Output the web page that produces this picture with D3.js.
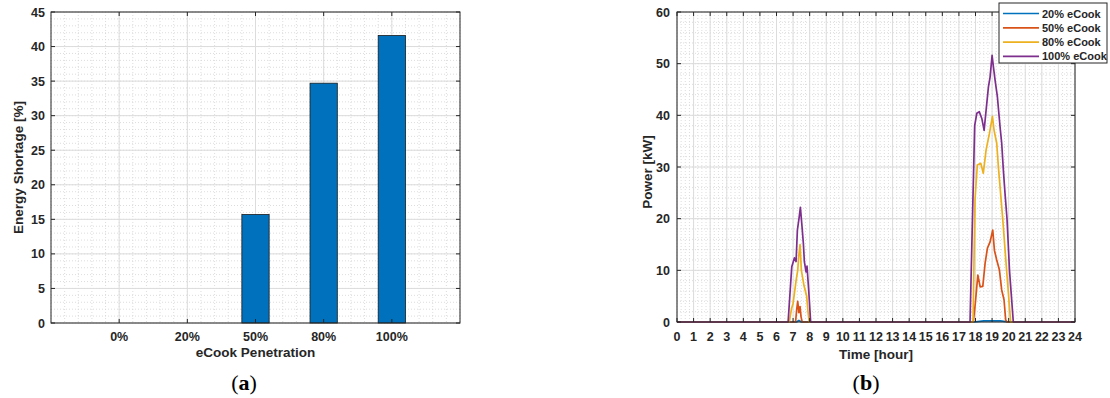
<!DOCTYPE html>
<html>
<head>
<meta charset="utf-8">
<script src="https://cdn.jsdelivr.net/npm/d3@7"></script>
<style>
  body { margin: 0; background: #fff; }
  svg text { font-family: "Liberation Sans", Arial, sans-serif; font-weight: bold; fill: #262626; }
</style>
</head>
<body>
<div id="chart"></div>
<script>
// panel (a): energy shortage per eCook penetration
var penetration = ["0%", "20%", "50%", "80%", "100%"];
var shortage = [0, 0, 15.7, 34.7, 41.6];
var shortageTicks = [0, 5, 10, 15, 20, 25, 30, 35, 40, 45];

// panel (b): power profiles, [hour, kW]
var eCook20 = [[0, 0], [7.2, 0], [7.35, 0.3], [7.5, 0], [17.9, 0], [18.5, 0.2], [19.5, 0.2], [20, 0], [24, 0]];
var eCook50 = [[0, 0], [7.15, 0], [7.22, 2.5], [7.28, 4], [7.35, 1.8], [7.42, 3], [7.48, 1], [7.55, 0],
  [17.87, 0], [18.0, 4], [18.14, 9.1], [18.28, 6.8], [18.44, 6.9], [18.58, 11.4], [18.72, 14.3],
  [18.88, 15.5], [19.04, 17.8], [19.14, 13.9], [19.28, 12], [19.44, 10.1], [19.58, 6.2], [19.72, 4.3],
  [19.82, 0.4], [19.9, 0], [24, 0]];
var eCook80 = [[0, 0], [6.77, 0], [6.9, 2.5], [7.0, 3.6], [7.1, 6], [7.18, 8], [7.28, 10], [7.35, 13],
  [7.42, 15], [7.5, 10], [7.58, 8.5], [7.66, 7], [7.74, 6], [7.82, 5], [7.9, 2], [7.97, 0],
  [17.85, 0], [17.97, 23.6], [18.11, 30.4], [18.32, 30.7], [18.47, 28.8], [18.64, 33.3], [18.84, 36.5],
  [19.02, 39.8], [19.12, 37.1], [19.28, 34.6], [19.38, 30], [19.48, 26.2], [19.64, 20], [19.9, 9],
  [20.12, 0], [24, 0]];
var eCook100 = [[0, 0], [6.7, 0], [6.92, 10.7], [7.08, 12.4], [7.18, 11.7], [7.26, 17.8], [7.36, 20.1],
  [7.44, 22.2], [7.54, 18.4], [7.62, 15.2], [7.68, 11.7], [7.78, 9.7], [7.84, 10.8], [7.94, 6.2], [8.06, 0],
  [17.67, 0], [17.95, 38], [18.08, 40.4], [18.23, 40.7], [18.38, 39.4], [18.52, 37.1], [18.64, 41],
  [18.78, 45.5], [18.88, 47.4], [19.0, 51.6], [19.08, 49.4], [19.18, 46.8], [19.32, 43.6], [19.48, 37.8],
  [19.58, 34.6], [19.68, 29.4], [19.78, 24.9], [19.9, 20], [20.05, 10], [20.28, 0], [24, 0]];
var seriesNames = ["20% eCook", "50% eCook", "80% eCook", "100% eCook"];
var seriesColors = ["#0072BD", "#D95319", "#EDB120", "#7E2F8E"];
var powerTicks = [0, 10, 20, 30, 40, 50, 60];

var W = 1110, H = 398;
var tickFont = "12.5px", labelFont = "13.5px";
var svg = d3.select("#chart").append("svg").attr("width", W).attr("height", H);

function frame(g, x, y, w, h) {
  g.append("rect").attr("x", x).attr("y", y).attr("width", w).attr("height", h)
    .attr("fill", "none").attr("stroke", "#262626").attr("stroke-width", 1);
}

// ---------- panel (a) ----------
var a = { l: 51, t: 12, r: 460, b: 323 };
var xa = d3.scaleLinear().domain([0, 6]).range([a.l, a.r]);
var ya = d3.scaleLinear().domain([0, 45]).range([a.b, a.t]);
var ga = svg.append("g");

// minor grid
ga.selectAll(".mx").data(d3.range(0, 6.01, 0.2)).enter().append("line")
  .attr("x1", d => xa(d)).attr("x2", d => xa(d)).attr("y1", a.t).attr("y2", a.b)
  .attr("stroke", "#d4d4d4").attr("stroke-width", 0.8).attr("stroke-dasharray", "1,2");
ga.selectAll(".my").data(d3.range(0, 45.01, 1)).enter().append("line")
  .attr("x1", a.l).attr("x2", a.r).attr("y1", d => ya(d)).attr("y2", d => ya(d))
  .attr("stroke", "#d4d4d4").attr("stroke-width", 0.8).attr("stroke-dasharray", "1,2");
// major grid
ga.selectAll(".gx").data(penetration).enter().append("line")
  .attr("x1", (d, i) => xa(i + 1)).attr("x2", (d, i) => xa(i + 1)).attr("y1", a.t).attr("y2", a.b)
  .attr("stroke", "#dcdcdc").attr("stroke-width", 1);
ga.selectAll(".gy").data(shortageTicks).enter().append("line")
  .attr("x1", a.l).attr("x2", a.r).attr("y1", d => ya(d)).attr("y2", d => ya(d))
  .attr("stroke", "#dcdcdc").attr("stroke-width", 1);

// bars
var bw = (xa(1) - xa(0)) * 0.4;
ga.selectAll(".bar").data(shortage).enter().append("rect")
  .attr("x", (d, i) => xa(i + 1) - bw / 2)
  .attr("y", d => ya(d))
  .attr("width", bw)
  .attr("height", d => ya(0) - ya(d))
  .attr("fill", "#0072BD").attr("stroke", "#1a1a1a").attr("stroke-width", 0.8)
  .style("display", d => d > 0 ? null : "none");

frame(ga, a.l, a.t, a.r - a.l, a.b - a.t);

// ticks (inward, both sides)
penetration.forEach(function (p, i) {
  var x = xa(i + 1);
  ga.append("line").attr("x1", x).attr("x2", x).attr("y1", a.b).attr("y2", a.b - 4).attr("stroke", "#262626");
  ga.append("line").attr("x1", x).attr("x2", x).attr("y1", a.t).attr("y2", a.t + 4).attr("stroke", "#262626");
  ga.append("text").attr("x", x).attr("y", a.b + 18).attr("text-anchor", "middle")
    .style("font-size", tickFont).text(p);
});
shortageTicks.forEach(function (t) {
  var y = ya(t);
  ga.append("line").attr("x1", a.l).attr("x2", a.l + 4).attr("y1", y).attr("y2", y).attr("stroke", "#262626");
  ga.append("line").attr("x1", a.r).attr("x2", a.r - 4).attr("y1", y).attr("y2", y).attr("stroke", "#262626");
  ga.append("text").attr("x", a.l - 6).attr("y", y + 4.5).attr("text-anchor", "end")
    .style("font-size", tickFont).text(t);
});
ga.append("text").attr("x", (a.l + a.r) / 2).attr("y", 357).attr("text-anchor", "middle")
  .style("font-size", labelFont).text("eCook Penetration");
ga.append("text").attr("transform", "translate(23," + ((a.t + a.b) / 2) + ") rotate(-90)")
  .attr("text-anchor", "middle").style("font-size", labelFont).text("Energy Shortage [%]");

// ---------- panel (b) ----------
var b = { l: 677, t: 12, r: 1075, b: 322 };
var xb = d3.scaleLinear().domain([0, 24]).range([b.l, b.r]);
var yb = d3.scaleLinear().domain([0, 60]).range([b.b, b.t]);
var gb = svg.append("g");

gb.selectAll(".mx").data(d3.range(0, 24.01, 0.25)).enter().append("line")
  .attr("x1", d => xb(d)).attr("x2", d => xb(d)).attr("y1", b.t).attr("y2", b.b)
  .attr("stroke", "#d4d4d4").attr("stroke-width", 0.8).attr("stroke-dasharray", "1,2");
gb.selectAll(".my").data(d3.range(0, 60.01, 2)).enter().append("line")
  .attr("x1", b.l).attr("x2", b.r).attr("y1", d => yb(d)).attr("y2", d => yb(d))
  .attr("stroke", "#d4d4d4").attr("stroke-width", 0.8).attr("stroke-dasharray", "1,2");
var hours = d3.range(0, 25);
gb.selectAll(".gx").data(hours).enter().append("line")
  .attr("x1", d => xb(d)).attr("x2", d => xb(d)).attr("y1", b.t).attr("y2", b.b)
  .attr("stroke", "#dcdcdc").attr("stroke-width", 1);
gb.selectAll(".gy").data(powerTicks).enter().append("line")
  .attr("x1", b.l).attr("x2", b.r).attr("y1", d => yb(d)).attr("y2", d => yb(d))
  .attr("stroke", "#dcdcdc").attr("stroke-width", 1);

var line = d3.line().x(d => xb(d[0])).y(d => yb(d[1]));
[eCook20, eCook50, eCook80, eCook100].forEach(function (s, i) {
  gb.append("path").datum(s).attr("d", line).attr("fill", "none")
    .attr("stroke", seriesColors[i]).attr("stroke-width", 1.7).attr("stroke-linejoin", "round");
});

frame(gb, b.l, b.t, b.r - b.l, b.b - b.t);

hours.forEach(function (h) {
  var x = xb(h);
  gb.append("line").attr("x1", x).attr("x2", x).attr("y1", b.b).attr("y2", b.b - 4).attr("stroke", "#262626");
  gb.append("line").attr("x1", x).attr("x2", x).attr("y1", b.t).attr("y2", b.t + 4).attr("stroke", "#262626");
  gb.append("text").attr("x", x).attr("y", b.b + 19).attr("text-anchor", "middle")
    .style("font-size", tickFont).text(h);
});
powerTicks.forEach(function (t) {
  var y = yb(t);
  gb.append("line").attr("x1", b.l).attr("x2", b.l + 4).attr("y1", y).attr("y2", y).attr("stroke", "#262626");
  gb.append("line").attr("x1", b.r).attr("x2", b.r - 4).attr("y1", y).attr("y2", y).attr("stroke", "#262626");
  gb.append("text").attr("x", b.l - 7).attr("y", y + 4.5).attr("text-anchor", "end")
    .style("font-size", tickFont).text(t);
});
gb.append("text").attr("x", (b.l + b.r) / 2).attr("y", 359).attr("text-anchor", "middle")
  .style("font-size", labelFont).text("Time [hour]");
gb.append("text").attr("transform", "translate(652," + ((b.t + b.b) / 2 + 5) + ") rotate(-90)")
  .attr("text-anchor", "middle").style("font-size", labelFont).text("Power [kW]");

// legend
var lg = gb.append("g");
lg.append("rect").attr("x", 999).attr("y", 3).attr("width", 108).attr("height", 60)
  .attr("fill", "#fff").attr("stroke", "#262626").attr("stroke-width", 1);
seriesNames.forEach(function (n, i) {
  var y = 13.5 + i * 14.3;
  lg.append("line").attr("x1", 1003).attr("x2", 1039).attr("y1", y).attr("y2", y)
    .attr("stroke", seriesColors[i]).attr("stroke-width", 1.7);
  lg.append("text").attr("x", 1042).attr("y", y + 4).style("font-size", "11px").text(n);
});

// panel captions
function caption(x, letter) {
  var t = svg.append("text").attr("x", x).attr("y", 390).attr("text-anchor", "middle")
    .style("font-family", "'Liberation Serif', 'DejaVu Serif', serif").style("font-size", "22px")
    .style("font-weight", "normal").style("fill", "#000");
  t.append("tspan").text("(");
  t.append("tspan").style("font-weight", "bold").text(letter);
  t.append("tspan").text(")");
}
caption(244, "a");
caption(866, "b");
</script>
</body>
</html>
